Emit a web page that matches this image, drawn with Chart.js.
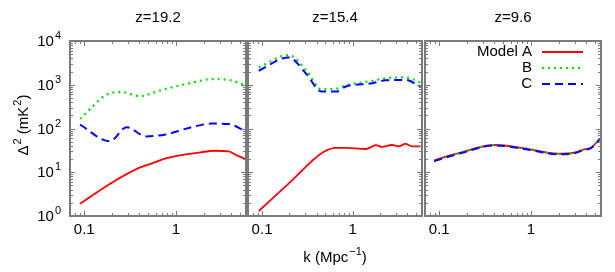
<!DOCTYPE html>
<html lang="en">
<head>
    <meta charset="UTF-8">
    <title>Power spectra</title>
    <script src="https://cdn.jsdelivr.net/npm/chart.js"></script>
    <style>
        body { margin: 0; background: #fff; }
        .wrap { position: relative; width: 615px; height: 272px; }
        .wrap canvas { position: absolute; left: 0; top: 0; }
    </style>
</head>
<body>
<div class="wrap">
    <canvas id="c1" width="615" height="272"></canvas>
    <canvas id="c2" width="615" height="272"></canvas>
    <canvas id="c3" width="615" height="272"></canvas>
</div>
<script>
    // panel titles and legend names
    var titles = ["z=19.2", "z=15.4", "z=9.6"];
    var names = ["Model A", "B", "C"];

    // z=19.2
    var k1A = [0.09, 0.19, 0.37, 0.55, 0.78, 1.0, 1.87, 2.6, 3.77, 4.5, 5.7];
    var v1A = [1.9, 5.4, 11.8, 16, 20.7, 23.5, 28.5, 31, 30, 25, 20];
    var k1B = [0.09, 0.19, 0.26, 0.4, 0.7, 1.4, 2.5, 3.77, 5.7];
    var v1B = [167, 635, 680, 550, 760, 1080, 1340, 1290, 970];
    var k1C = [0.09, 0.19, 0.29, 0.47, 0.77, 1.38, 2.5, 3.77, 5.7];
    var v1C = [122, 51, 107, 66, 73, 103, 130, 126, 87];

    // z=15.4
    var k2A = [0.092, 0.2, 0.47, 0.66, 0.84, 1.4, 1.8, 2.1, 2.7, 3.2, 3.8, 4.5, 5.6];
    var v2A = [1.3, 5.7, 28.5, 36, 36, 34, 41.5, 38, 42, 39, 44.7, 39, 39];
    var k2B = [0.092, 0.195, 0.31, 0.45, 0.66, 0.84, 1.64, 2.3, 3.8, 5.6];
    var v2B = [2500, 4780, 2090, 790, 815, 970, 1230, 1410, 1470, 1120];
    var k2C = [0.092, 0.195, 0.31, 0.45, 0.66, 0.84, 1.64, 2.3, 3.8, 5.6];
    var v2C = [2090, 4220, 1740, 700, 700, 910, 1080, 1260, 1290, 910];

    // z=9.6 (the three models lie on top of each other)
    var k3 = [0.088, 0.17, 0.4, 0.85, 1.95, 2.95, 3.8, 4.5, 5.6];
    var v3A = [18.8, 28, 42, 35.2, 26.5, 28, 33.5, 36.5, 57];
    var v3B = [18.4, 27.6, 41.5, 34.7, 26, 27.6, 33, 36, 56];
    var v3C = [18, 27.2, 41, 34.2, 25.6, 27.2, 32.5, 35.5, 55];

    // x and y tick values
    var xMajor = [0.1, 1];
    var xMinor = [0.08, 0.09, 0.2, 0.3, 0.4, 0.5, 0.6, 0.7, 0.8, 0.9, 2, 3, 4, 5];
    var yMajor = [1, 10, 100, 1000, 10000];
    var yLabels = ["0", "1", "2", "3", "4"];

    var FONT = '"Liberation Sans", Arial, sans-serif';
    var red = "#ff0000", green = "#00e000", blue = "#0000ff";

    function pts(k, v) {
        return k.map(function (x, i) { return { x: x, y: v[i] }; });
    }

    // draws a list of [text, isSuperscript] pieces, y is middle of normal text
    function richText(ctx, parts, x, y, align) {
        var w = 0, widths = [];
        parts.forEach(function (p) {
            ctx.font = (p[1] ? "11px " : "15px ") + FONT;
            var pw = ctx.measureText(p[0]).width + (p[1] ? 1 : 0);
            widths.push(pw); w += pw;
        });
        var x0 = align === "right" ? x - w : align === "center" ? x - w / 2 : x;
        ctx.textAlign = "left";
        ctx.textBaseline = "middle";
        parts.forEach(function (p, i) {
            ctx.font = (p[1] ? "11px " : "15px ") + FONT;
            ctx.fillText(p[0], x0 + (p[1] ? 1 : 0), p[1] ? y - 6 : y);
            x0 += widths[i];
        });
    }

    var framePlugin = {
        id: "frame",
        afterDraw: function (chart) {
            var ctx = chart.ctx, a = chart.chartArea;
            var xs = chart.scales.x, ys = chart.scales.y;
            var o = chart.options.plugins.frame;
            ctx.save();
            ctx.strokeStyle = "#7a7a7a";
            ctx.lineWidth = 1;
            ctx.beginPath();
            xMajor.concat(xMinor).forEach(function (v) {
                var px = Math.round(xs.getPixelForValue(v)) + 0.5;
                var len = xMajor.indexOf(v) >= 0 ? 5 : 3;
                ctx.moveTo(px, a.bottom); ctx.lineTo(px, a.bottom - len);
                ctx.moveTo(px, a.top); ctx.lineTo(px, a.top + len);
            });
            for (var d = 0; d < 4; d++) {
                for (var m = 1; m < 10; m++) {
                    var py = Math.round(ys.getPixelForValue(m * Math.pow(10, d))) + 0.5;
                    var l = m === 1 ? 5 : 3;
                    ctx.moveTo(a.left, py); ctx.lineTo(a.left + l, py);
                    ctx.moveTo(a.right, py); ctx.lineTo(a.right - l, py);
                }
            }
            ctx.stroke();
            ctx.lineWidth = 2;
            ctx.strokeRect(a.left, a.top, a.right - a.left, a.bottom - a.top);

            ctx.fillStyle = "#000";
            ctx.font = "15px " + FONT;
            ctx.textAlign = "center";
            ctx.textBaseline = "middle";
            ctx.fillText(o.title, (a.left + a.right) / 2, 18);
            xMajor.forEach(function (v) {
                ctx.font = "15px " + FONT;
                ctx.textAlign = "center";
                ctx.fillText(String(v), xs.getPixelForValue(v), 230);
            });

            if (o.yAxis) {
                yMajor.forEach(function (v, i) {
                    richText(ctx, [["10", false], [yLabels[i], true]], 61, ys.getPixelForValue(v) + 1, "right");
                });
                ctx.save();
                ctx.translate(24, 125);
                ctx.rotate(-Math.PI / 2);
                richText(ctx, [["\u0394", false], ["2", true], [" (mK", false], ["2", true], [")", false]], 0, 0, "center");
                ctx.restore();
            }
            if (o.xLabel) {
                richText(ctx, [["k (Mpc", false], ["\u22121", true], [")", false]], (a.left + a.right) / 2, 258, "center");
            }
            if (o.legend) {
                var styles = [[red, []], [green, [2, 4]], [blue, [8, 5]]];
                names.forEach(function (n, i) {
                    var y = 52 + i * 16;
                    ctx.fillStyle = "#000";
                    ctx.font = "15px " + FONT;
                    ctx.textAlign = "right";
                    ctx.fillText(n, 532, y);
                    ctx.strokeStyle = styles[i][0];
                    ctx.setLineDash(styles[i][1]);
                    ctx.lineWidth = 2;
                    ctx.beginPath();
                    ctx.moveTo(542, y); ctx.lineTo(583, y);
                    ctx.stroke();
                });
                ctx.setLineDash([]);
            }
            ctx.restore();
        }
    };

    function makePanel(id, left, right, dA, dB, dC, extra) {
        var opts = { title: extra.title, yAxis: !!extra.yAxis, xLabel: !!extra.xLabel, legend: !!extra.legend };
        return new Chart(document.getElementById(id), {
            type: "line",
            data: {
                datasets: [
                    { label: names[0], data: dA, borderColor: red, borderWidth: 1.8, order: 3 },
                    { label: names[1], data: dB, borderColor: green, borderWidth: 2.2, borderDash: [2, 4], order: 2 },
                    { label: names[2], data: dC, borderColor: blue, borderWidth: 2, borderDash: [8, 5], order: 1 }
                ]
            },
            options: {
                responsive: false,
                animation: false,
                events: [],
                layout: { padding: { left: left, right: 615 - right, top: 41, bottom: 272 - 216 } },
                elements: { point: { radius: 0 }, line: { tension: 0, cubicInterpolationMode: "monotone", fill: false } },
                scales: {
                    x: { type: "logarithmic", min: 0.07, max: 5.8, display: false },
                    y: { type: "logarithmic", min: 1, max: 10000, display: false }
                },
                plugins: { legend: { display: false }, tooltip: { enabled: false }, frame: opts }
            },
            plugins: [framePlugin]
        });
    }

    makePanel("c1", 70, 246, pts(k1A, v1A), pts(k1B, v1B), pts(k1C, v1C), { title: titles[0], yAxis: true });
    makePanel("c2", 248, 422, pts(k2A, v2A), pts(k2B, v2B), pts(k2C, v2C), { title: titles[1], xLabel: true });
    makePanel("c3", 425, 601, pts(k3, v3A), pts(k3, v3B), pts(k3, v3C), { title: titles[2], legend: true });
</script>
</body>
</html>
